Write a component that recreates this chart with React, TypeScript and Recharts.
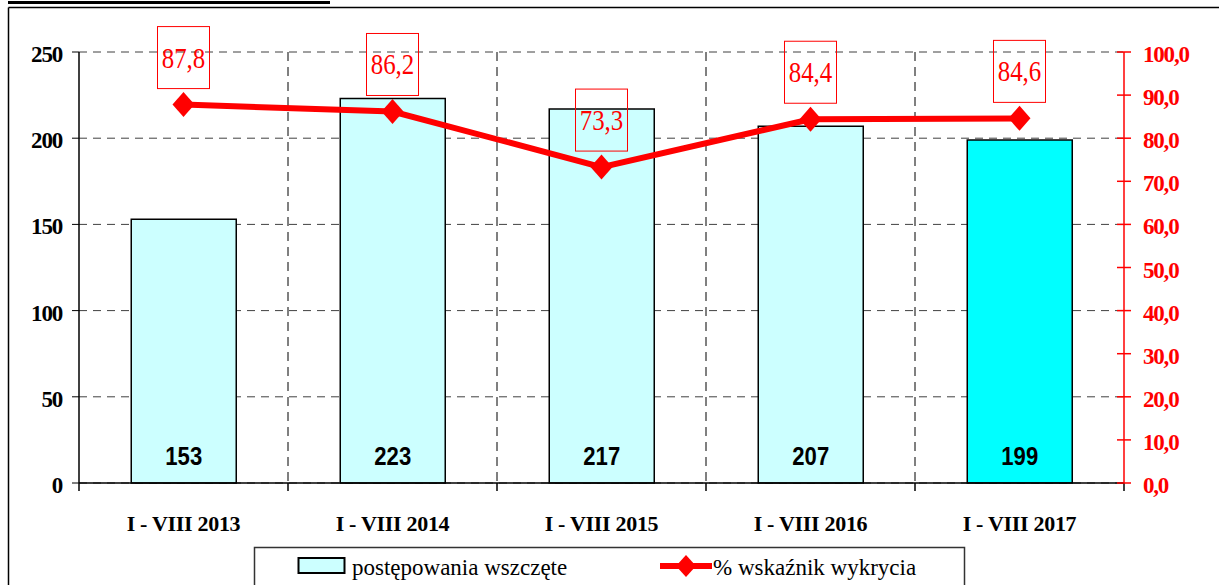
import React from 'react';
import { ComposedChart, Bar, Line, XAxis, YAxis, CartesianGrid, LabelList, Cell } from 'recharts';

const categories = ['I - VIII 2013', 'I - VIII 2014', 'I - VIII 2015', 'I - VIII 2016', 'I - VIII 2017'];
const casesStarted = [153, 223, 217, 207, 199];
const detectionRate = [87.8, 86.2, 73.3, 84.4, 84.6];
const leftTicks = [0, 50, 100, 150, 200, 250];
const rightTicks = [0, 10, 20, 30, 40, 50, 60, 70, 80, 90, 100];
const barFills = ['#CCFFFF', '#CCFFFF', '#CCFFFF', '#CCFFFF', '#00FFFF'];
const seriesNames = ['postępowania wszczęte', '% wskaźnik wykrycia'];

const data = categories.map((cat, i) => ({ cat, cases: casesStarted[i], rate: detectionRate[i] }));

const RED = '#FF0000';
const SERIF = "'Liberation Serif', 'Times New Roman', Times, serif";
const SANS = "'Liberation Sans', Arial, Helvetica, sans-serif";
const fmtPct = (v: number) => Number(v).toFixed(1).replace('.', ',');

const X_MARGIN = 48;
const RIGHT_MARGIN = 19;

const serifBold = (size: number, spacing: number, fill: string) => ({
  fontFamily: SERIF,
  fontWeight: 700,
  fontSize: size,
  letterSpacing: spacing,
  fill,
});

const XTick = (props: any) => {
  const { x, y, payload, index, width, visibleTicksCount } = props;
  const half = payload && typeof payload.offset === 'number' && payload.offset > 0
    ? payload.offset
    : width / ((visibleTicksCount || categories.length) * 2);
  const axisY = y - X_MARGIN;
  const last = index === (visibleTicksCount || categories.length) - 1;
  return (
    <g>
      <line x1={x - half} x2={x - half} y1={axisY} y2={axisY + 8} stroke="#000" strokeWidth={1.5} />
      {last && <line x1={x + half} x2={x + half} y1={axisY} y2={axisY + 8} stroke="#000" strokeWidth={1.5} />}
      <text x={x} y={y} textAnchor="middle" style={serifBold(22, -0.3, '#000')}>
        {payload.value}
      </text>
    </g>
  );
};

const LeftTick = (props: any) => {
  const { x, y, payload } = props;
  return (
    <text x={x} y={y + 10} textAnchor="end" style={serifBold(23, -1.2, '#000')}>
      {payload.value}
    </text>
  );
};

const RightTick = (props: any) => {
  const { x, y, payload } = props;
  const ax = x - RIGHT_MARGIN;
  return (
    <g>
      <line x1={ax - 7} x2={ax + 7} y1={y} y2={y} stroke={RED} strokeWidth={1.5} />
      <text x={x} y={y + 10} textAnchor="start" style={serifBold(23, -1.2, RED)}>
        {fmtPct(payload.value)}
      </text>
    </g>
  );
};

const BarValueLabel = (props: any) => {
  const vb = props.viewBox || props;
  const x = vb.x ?? props.x;
  const y = vb.y ?? props.y;
  const w = vb.width ?? props.width;
  const h = vb.height ?? props.height;
  const cx = x + w / 2;
  const by = y + h - 18;
  return (
    <text
      transform={`translate(${cx} ${by}) scale(0.85 1)`}
      x={0}
      y={0}
      textAnchor="middle"
      style={{ fontFamily: SANS, fontWeight: 700, fontSize: 26, fill: '#000' }}
    >
      {props.value}
    </text>
  );
};

const RateLabel = (props: any) => {
  const vb = props.viewBox || {};
  const x = props.x ?? vb.x;
  const y = props.y ?? vb.y;
  return (
    <g>
      <rect x={x - 26} y={y - 78} width={52} height={62} fill="none" stroke={RED} strokeWidth={1} />
      <text
        transform={`translate(${x} ${y - 37}) scale(0.86 1)`}
        x={0}
        y={0}
        textAnchor="middle"
        style={{ fontFamily: SERIF, fontWeight: 400, fontSize: 29, fill: RED }}
      >
        {fmtPct(props.value)}
      </text>
    </g>
  );
};

const Diamond = (props: any) => {
  const { cx, cy } = props;
  if (cx == null || cy == null) return null;
  return <polygon points={`${cx},${cy - 12.5} ${cx + 11},${cy} ${cx},${cy + 12.5} ${cx - 11},${cy}`} fill={RED} />;
};

// category boundaries derived from the library's x scale (band starts), falling back to the plot offset
const verticalGen = (args: any) => {
  const xAxis = args && args.xAxis;
  const scale = xAxis && xAxis.scale;
  let pts: number[] = [];
  const apply = (c: string) => {
    if (!scale) return NaN;
    if (typeof scale === 'function') return scale(c);
    if (typeof scale.map === 'function') return scale.map(c);
    if (typeof scale.scale === 'function') return scale.scale(c);
    return NaN;
  };
  try {
    pts = categories.slice(1).map((c) => apply(c));
  } catch (e) {
    pts = [];
  }
  if (pts.length && pts.every((v) => typeof v === 'number' && !isNaN(v))) return pts;
  const off = args && args.offset;
  if (!off) return [];
  const band = off.width / categories.length;
  return categories.slice(1).map((_, i) => off.left + band * (i + 1));
};

export default function App() {
  return (
    <div style={{ position: 'absolute', left: 0, top: 0, width: 1219, height: 585, overflow: 'hidden', background: '#fff', fontFamily: SERIF }}>
      <div style={{ position: 'absolute', left: 0, top: 0 }}>
        <ComposedChart width={1219} height={585} data={data} margin={{ top: 52, right: 35, bottom: 62, left: 19 }} barCategoryGap="25%">
          <CartesianGrid yAxisId="left" horizontal={true} vertical={false} stroke="#404040" strokeWidth={1} strokeDasharray="8 6" />
          <CartesianGrid yAxisId="left" horizontal={false} vertical={true} verticalCoordinatesGenerator={verticalGen} stroke="#000" strokeWidth={1} strokeDasharray="9 6" />
          <XAxis
            dataKey="cat"
            interval={0}
            height={40}
            tickSize={0}
            tickMargin={X_MARGIN}
            tickLine={false}
            axisLine={{ stroke: '#000', strokeWidth: 1.5 }}
            tick={<XTick />}
          />
          <YAxis
            yAxisId="left"
            domain={[0, 250]}
            ticks={leftTicks}
            interval={0}
            width={60}
            tickSize={7}
            tickMargin={10}
            tickLine={{ stroke: '#000', strokeWidth: 1 }}
            axisLine={{ stroke: '#000', strokeWidth: 1.5 }}
            tick={<LeftTick />}
          />
          <YAxis
            yAxisId="right"
            orientation="right"
            domain={[0, 100]}
            ticks={rightTicks}
            interval={0}
            width={60}
            tickSize={0}
            tickMargin={RIGHT_MARGIN}
            tickLine={false}
            axisLine={{ stroke: RED, strokeWidth: 1.5 }}
            tick={<RightTick />}
          />
          <Bar yAxisId="left" dataKey="cases" name={seriesNames[0]} stroke="#000" strokeWidth={1.5} isAnimationActive={false}>
            {data.map((d, i) => (
              <Cell key={d.cat} fill={barFills[i]} />
            ))}
            <LabelList dataKey="cases" content={<BarValueLabel />} />
          </Bar>
          <Line
            yAxisId="right"
            dataKey="rate"
            name={seriesNames[1]}
            stroke={RED}
            strokeWidth={6}
            dot={<Diamond />}
            activeDot={false}
            isAnimationActive={false}
          >
            <LabelList dataKey="rate" content={<RateLabel />} />
          </Line>
        </ComposedChart>
      </div>
      <svg style={{ position: 'absolute', left: 0, top: 0 }} width={1219} height={585}>
        {/* clipped heading underline and outer frame */}
        <rect x={8} y={1} width={322} height={3} fill="#000" />
        <line x1={8.5} x2={1219} y1={7.5} y2={7.5} stroke="#000" strokeWidth={1.5} />
        <line x1={8.5} x2={8.5} y1={7.5} y2={585} stroke="#000" strokeWidth={1.5} />
        {/* legend */}
        <rect x={254.5} y={547.5} width={710} height={50} fill="none" stroke="#333" strokeWidth={1.5} />
        <rect x={298.5} y={558} width={46} height={15} fill={barFills[0]} stroke="#000" strokeWidth={2} />
        <text x={352} y={575} style={{ fontFamily: SERIF, fontSize: 23, fill: '#000' }}>{seriesNames[0]}</text>
        <line x1={660} x2={712} y1={566} y2={566} stroke={RED} strokeWidth={6} />
        <polygon points="686,555 696,566 686,577 676,566" fill={RED} />
        <text x={713} y={575} style={{ fontFamily: SERIF, fontSize: 23, fill: '#000' }}>{seriesNames[1]}</text>
      </svg>
    </div>
  );
}
